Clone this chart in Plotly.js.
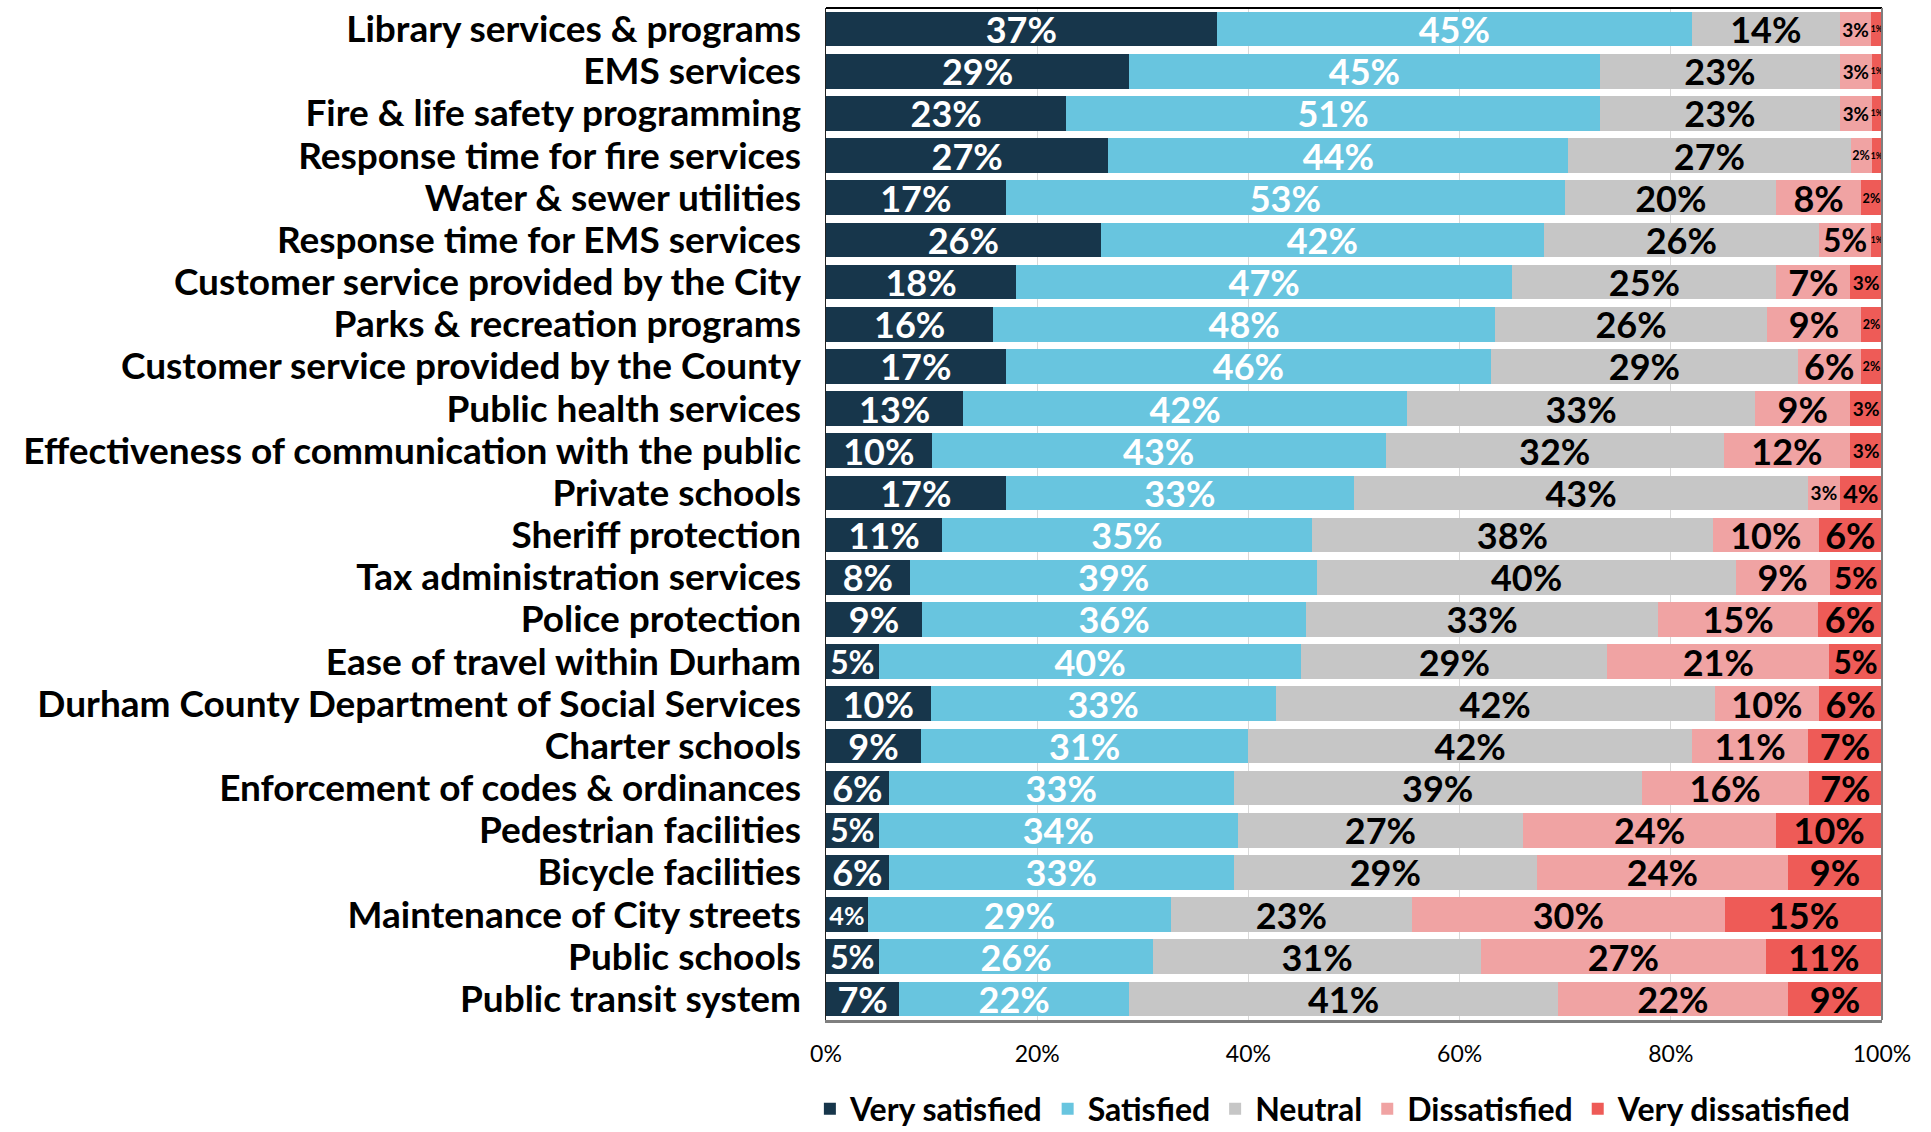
<!DOCTYPE html>
<html>
<head>
<meta charset="utf-8">
<script src="https://cdn.plot.ly/plotly-3.0.1.min.js"></script>
<style>html,body{margin:0;padding:0;background:#fff;}</style>
</head>
<body>
<div id="chart" style="width:1931px;height:1132px;"></div>
<script>
// ---------- DATA ----------
const categories = [
  "Library services & programs",
  "EMS services",
  "Fire & life safety programming",
  "Response time for fire services",
  "Water & sewer utilities",
  "Response time for EMS services",
  "Customer service provided by the City",
  "Parks & recreation programs",
  "Customer service provided by the County",
  "Public health services",
  "Effectiveness of communication with the public",
  "Private schools",
  "Sheriff protection",
  "Tax administration services",
  "Police protection",
  "Ease of travel within Durham",
  "Durham County Department of Social Services",
  "Charter schools",
  "Enforcement of codes & ordinances",
  "Pedestrian facilities",
  "Bicycle facilities",
  "Maintenance of City streets",
  "Public schools",
  "Public transit system"
];
const verySatisfied    = [37, 29, 23, 27, 17, 26, 18, 16, 17, 13, 10, 17, 11,  8,  9,  5, 10,  9,  6,  5,  6,  4,  5,  7];
const satisfied        = [45, 45, 51, 44, 53, 42, 47, 48, 46, 42, 43, 33, 35, 39, 36, 40, 33, 31, 33, 34, 33, 29, 26, 22];
const neutral          = [14, 23, 23, 27, 20, 26, 25, 26, 29, 33, 32, 43, 38, 40, 33, 29, 42, 42, 39, 27, 29, 23, 31, 41];
const dissatisfied     = [ 3,  3,  3,  2,  8,  5,  7,  9,  6,  9, 12,  3, 10,  9, 15, 21, 10, 11, 16, 24, 24, 30, 27, 22];
const veryDissatisfied = [ 1,  1,  1,  1,  2,  1,  3,  2,  2,  3,  3,  4,  6,  5,  6,  5,  6,  7,  7, 10,  9, 15, 11,  9];
const seriesNames = ["Very satisfied", "Satisfied", "Neutral", "Dissatisfied", "Very dissatisfied"];
const tickValues = [0, 20, 40, 60, 80, 100];
const tickLabels = ["0%", "20%", "40%", "60%", "80%", "100%"];

// ---------- STYLE ----------
const FONT = 'Lato, "Open Sans", "DejaVu Sans", sans-serif';
const colors = ["#17364B", "#68C5DF", "#C6C6C6", "#F0A3A3", "#EE5B57"];
const textColors = ["#ffffff", "#ffffff", "#000000", "#000000", "#000000"];
const PLOT_W = 1056;
const FULL_SIZE = 36;

const series = [verySatisfied, satisfied, neutral, dissatisfied, veryDissatisfied];
const rowTotals = categories.map((c, i) => series.reduce((s, arr) => s + arr[i], 0));
function labelSize(v, i) {
  const px = v / rowTotals[i] * PLOT_W;
  return Math.max(8.5, Math.min(FULL_SIZE, 0.6 * px));
}

const traces = series.map((vals, k) => ({
  type: "bar",
  orientation: "h",
  name: seriesNames[k],
  y: categories,
  x: vals,
  marker: { color: colors[k], line: { width: 0 } },
  text: vals.map(v => v + "%"),
  textposition: "inside",
  insidetextanchor: "middle",
  textangle: 0,
  constraintext: "none",
  textfont: { family: FONT, size: vals.map((v, i) => labelSize(v, i)), color: textColors[k], weight: 700 },
  hoverinfo: "skip"
}));

const layout = {
  width: 1931,
  height: 1132,
  margin: { l: 826, r: 49, t: 8, b: 112, autoexpand: false },
  paper_bgcolor: "#ffffff",
  plot_bgcolor: "#ffffff",
  barmode: "stack",
  barnorm: "percent",
  bargap: 0.18,
  showlegend: true,
  xaxis: {
    range: [0, 100],
    tickmode: "array",
    tickvals: tickValues,
    ticktext: tickLabels,
    showgrid: true,
    gridcolor: "#d9d9d9",
    gridwidth: 1,
    zeroline: false,
    ticks: "",
    ticklabelstandoff: 11,
    tickfont: { family: FONT, size: 23, color: "#000000" },
    showline: true,
    linecolor: "#7f7f7f",
    linewidth: 3,
    fixedrange: true
  },
  yaxis: {
    type: "category",
    categoryorder: "array",
    categoryarray: categories,
    tickmode: "array",
    tickvals: categories,
    autorange: "reversed",
    showgrid: false,
    zeroline: false,
    ticks: "",
    ticklabelstandoff: 16,
    tickfont: { family: FONT, size: 37, color: "#000000", weight: 700 },
    showline: true,
    linecolor: "#222222",
    linewidth: 1.5,
    fixedrange: true
  },
  legend: {
    orientation: "h",
    x: 0.48,
    xanchor: "center",
    y: -0.088,
    yanchor: "middle",
    traceorder: "normal",
    font: { family: FONT, size: 32, color: "#000000", weight: 700 }
  },
  shapes: [
    { type: "line", xref: "paper", yref: "paper", x0: 0, x1: 1, y0: 1, y1: 1, line: { color: "#000000", width: 2 }, layer: "above" },
    { type: "line", xref: "paper", yref: "paper", x0: 1, x1: 1, y0: 0, y1: 1, line: { color: "#7f7f7f", width: 2 }, layer: "above" }
  ]
};

Plotly.newPlot("chart", traces, layout, { displayModeBar: false, staticPlot: true });
</script>
</body>
</html>
